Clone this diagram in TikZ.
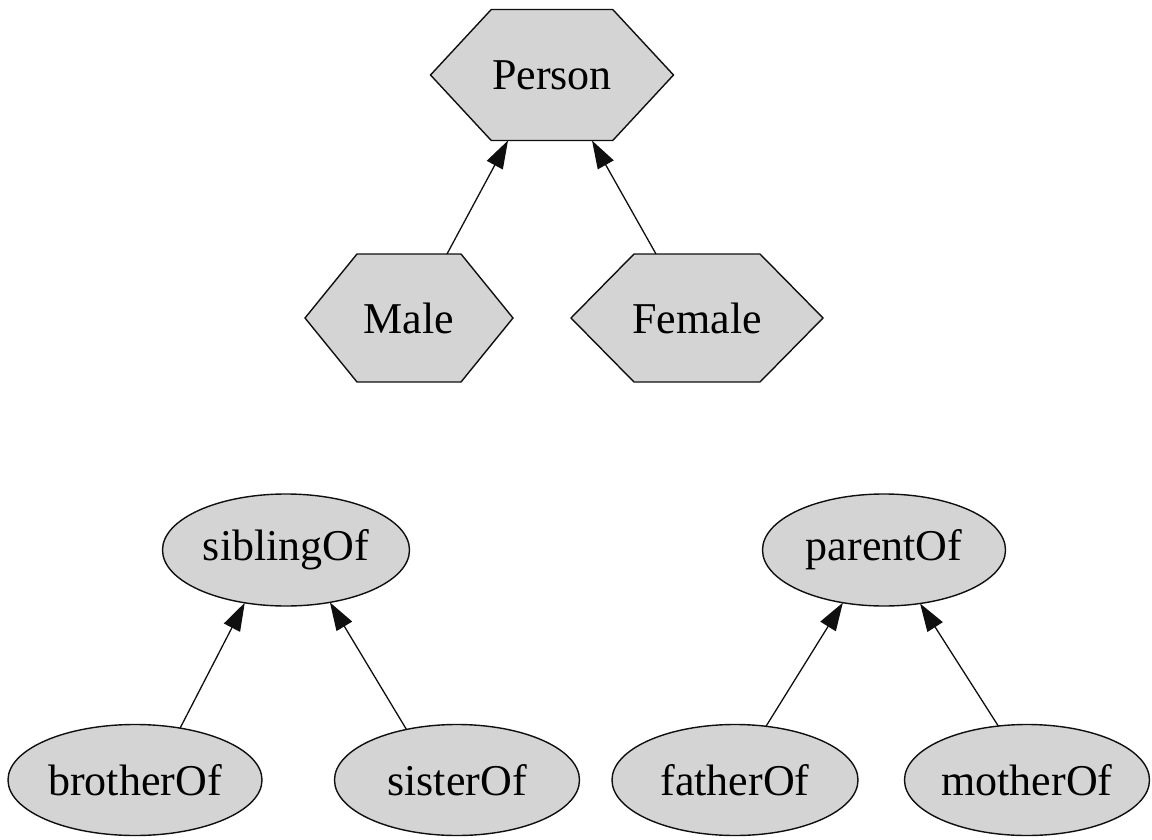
\documentclass[tikz,border=0pt]{standalone}
\usepackage{fontspec}
\setmainfont{Liberation Serif}
\usetikzlibrary{calc,arrows.meta,shapes.geometric}
\pgfdeclarelayer{background}
\pgfsetlayers{background,main}
\definecolor{nodefill}{RGB}{212,212,212}
\definecolor{linec}{RGB}{15,15,15}
\tikzset{
  hexbox/.style={rectangle, draw=none, inner sep=0pt, outer sep=0pt, font=\fontsize{44}{48}\selectfont},
  hexline/.style={fill=nodefill, draw=linec, line width=1.4pt, line join=miter},
  ellnode/.style={ellipse, fill=nodefill, draw=linec, line width=1.4pt, inner sep=0pt, outer sep=0pt, font=\fontsize{44}{48}\selectfont},
  isa/.style={draw=linec, line width=1.3pt, -{Triangle[length=28pt,width=18pt]}}
}
\begin{document}
\begin{tikzpicture}[x=1pt,y=-1pt]
\useasboundingbox (0,0) rectangle (1152,840);
% hexagon nodes
\node[hexbox, minimum width=243pt, minimum height=131pt] (person) at (552,75) {Person};
\node[hexbox, minimum width=208pt, minimum height=128pt] (male) at (409,318) {Male};
\node[hexbox, minimum width=252pt, minimum height=128pt] (female) at (697,318) {Female};
\begin{pgfonlayer}{background}
  \foreach \n in {person,male,female}{
    \filldraw[hexline] (\n.west) -- ($(\n.north west)!0.25!(\n.north east)$) -- ($(\n.north west)!0.75!(\n.north east)$) -- (\n.east) -- ($(\n.south west)!0.75!(\n.south east)$) -- ($(\n.south west)!0.25!(\n.south east)$) -- cycle;
  }
\end{pgfonlayer}
% ellipse nodes
\node[ellnode, minimum width=247pt, minimum height=112pt] (sibling) at (286,550) {siblingOf};
\node[ellnode, minimum width=243pt, minimum height=112pt] (parent) at (884,550) {parentOf};
\node[ellnode, minimum width=254pt, minimum height=111pt] (brother) at (135,780) {brotherOf};
\node[ellnode, minimum width=245pt, minimum height=111pt] (sister) at (457,780) {sisterOf};
\node[ellnode, minimum width=246pt, minimum height=111pt] (father) at (735,780) {fatherOf};
\node[ellnode, minimum width=245pt, minimum height=111pt] (mother) at (1027,780) {motherOf};
% connectors
\draw[isa] ($(male.north)+(38,0)$) -- ($(person.south)+(-44,0)$);
\draw[isa] ($(female.north)+(-41,0)$) -- ($(person.south)+(40,0)$);
\draw[isa] (brother.49) -- (sibling.232);
\draw[isa] (sister.135) -- (sibling.310);
\draw[isa] (father.60) -- (parent.232);
\draw[isa] (mother.118) -- (parent.304);
\end{tikzpicture}
\end{document}
